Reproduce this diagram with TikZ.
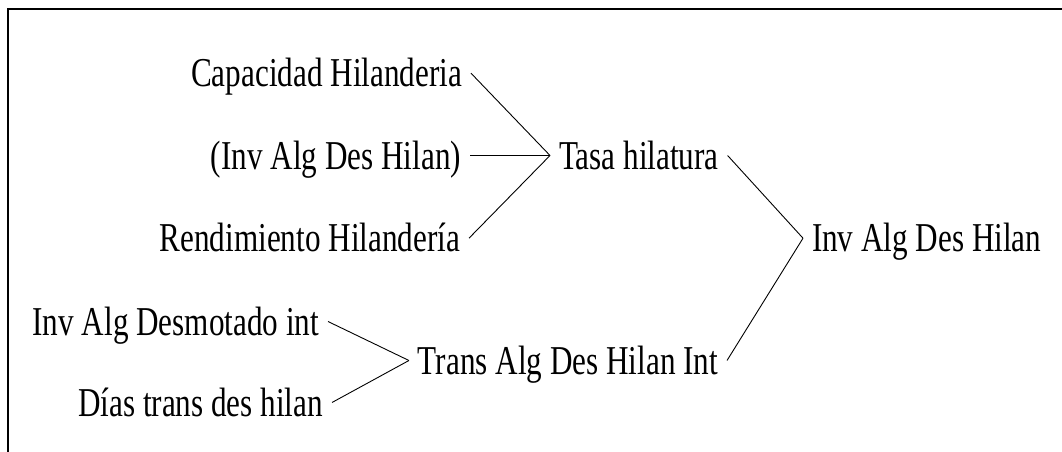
\documentclass[tikz,border=0pt]{standalone}
\usepackage{fontspec}
\setmainfont{Liberation Serif}[FakeStretch=0.76]
\begin{document}
\begin{tikzpicture}[x=1pt,y=-1pt,
  lbl/.style={inner sep=0pt, outer xsep=9pt, text height=27pt, text depth=0pt,
              font=\fontsize{41}{48}\selectfont},
  link/.style={line width=0.9pt, black},
  frame/.style={line width=2.5pt, black}]
\useasboundingbox (0,0) rectangle (1062,452);
\fill[white] (0,0) rectangle (1062,452);
\draw[frame] (8,452) -- (8,9) -- (1062,9);

% inputs of the spinning rate
\node[lbl, anchor=base east] (cap)  at (471,86.7)  {Capacidad Hilanderia};
\node[lbl, anchor=base east] (invp) at (470,169)   {(Inv Alg Des Hilan)};
\node[lbl, anchor=base east] (rend) at (469,251.7) {Rendimiento Hilandería};
\node[lbl, anchor=base west] (tasa) at (550,169)   {Tasa hilatura};

% inputs of the transfer flow
\node[lbl, anchor=base east] (desm)  at (328,335) {Inv Alg Desmotado int};
\node[lbl, anchor=base east] (dias)  at (332,416) {Días trans des hilan};
\node[lbl, anchor=base east] (trans) at (727,374) {Trans Alg Des Hilan Int};

% stock
\node[lbl, anchor=base west] (inv) at (803,251.7) {Inv Alg Des Hilan};

\draw[link] (cap.east)  -- (tasa.west);
\draw[link] (invp.east) -- (tasa.west);
\draw[link] (rend.east) -- (tasa.west);
\draw[link] (desm.east) -- (trans.west);
\draw[link] (dias.east) -- (trans.west);
\draw[link] (tasa.east) -- (inv.west);
\draw[link] (trans.east) -- (inv.west);
\end{tikzpicture}
\end{document}
